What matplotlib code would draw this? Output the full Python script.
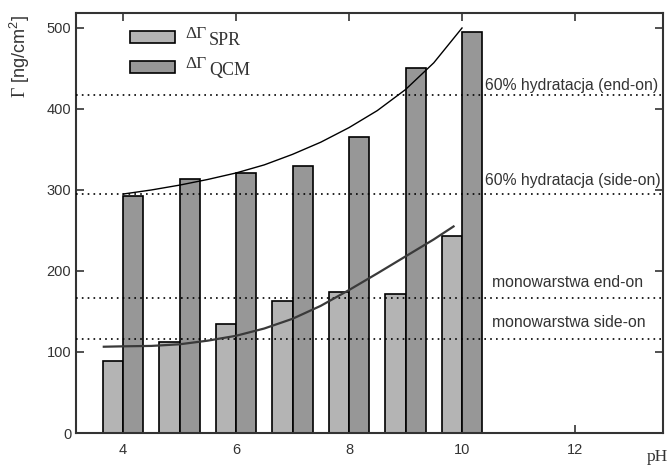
import numpy as np
import matplotlib
matplotlib.use("Agg")
import matplotlib.pyplot as plt
from matplotlib.patches import Rectangle

plt.rcParams['font.family'] = ['Liberation Sans', 'DejaVu Sans']
plt.rcParams['mathtext.fontset'] = 'custom'
plt.rcParams['mathtext.rm'] = 'Liberation Serif'
plt.rcParams['mathtext.sf'] = 'Liberation Sans'

# measured values
ph = [4, 5, 6, 7, 8, 9, 10]
spr = [89, 112, 134, 163, 174, 172, 243]
qcm = [293, 313, 321, 330, 365, 450, 495]

# fitted trend lines
qcm_fit_ph = [4, 4.5, 5, 5.5, 6, 6.5, 7, 7.5, 8, 8.5, 9, 9.5, 10]
qcm_fit = [295, 300, 306, 313, 321, 331, 344, 359, 377, 398, 424, 457, 500]
spr_fit_ph = [3.66, 4, 4.5, 5, 5.5, 6, 6.5, 7, 7.5, 8, 8.5, 9, 9.5, 9.85]
spr_fit = [106.5, 107, 107.5, 109.5, 114, 120, 129, 141, 157, 176.5, 197, 218, 239, 255]

# reference levels
levels = [417, 295, 167, 116]
level_labels = ["60% hydratacja (end-on)", "60% hydratacja (side-on)",
                "monowarstwa end-on", "monowarstwa side-on"]
label_pos = [(10.41, 429), (10.41, 312), (10.53, 186), (10.53, 136)]

c_spr = '#b4b4b4'
c_qcm = '#979797'
dark = '#333333'

fig = plt.figure(figsize=(6.7, 4.69), dpi=100)
ax = fig.add_axes([76 / 670, 36 / 469, 587 / 670, 420 / 469])

w = 0.36
x = np.array(ph)
ax.bar(x - w, spr, width=w, align='edge', color=c_spr, edgecolor='black', linewidth=1.2, zorder=2)
ax.bar(x, qcm, width=w, align='edge', color=c_qcm, edgecolor='black', linewidth=1.2, zorder=2)

for lv in levels:
    ax.axhline(lv, color='black', linestyle=(0, (1, 2.5)), linewidth=1.2, zorder=3)
for txt, (tx, ty) in zip(level_labels, label_pos):
    ax.text(tx, ty, txt, fontsize=11.3, color=dark, va='center', ha='left', zorder=4)

ax.plot(qcm_fit_ph, qcm_fit, color='black', linewidth=1.0, zorder=4)
ax.plot(spr_fit_ph, spr_fit, color='#3a3a3a', linewidth=1.6, zorder=4)

ax.set_xlim(3.168, 13.557)
ax.set_ylim(0, 518.5)
ax.set_xticks([4, 6, 8, 10, 12])
ax.set_yticks([0, 100, 200, 300, 400, 500])
ax.tick_params(axis='both', direction='in', length=6, width=1.2, colors=dark,
               labelsize=10.5, top=True, right=True, labeltop=False, labelright=False)
ax.tick_params(axis='x', pad=7)
for s in ax.spines.values():
    s.set_linewidth(1.5)
    s.set_color(dark)

# legend drawn by hand
for fy, name, by in [(0.9286, 'SPR', 0.924), (0.857, 'QCM', 0.852)]:
    ax.add_patch(Rectangle((0.092, fy), 0.0767, 0.0286, transform=ax.transAxes,
                           facecolor=c_spr if name == 'SPR' else c_qcm,
                           edgecolor='black', linewidth=1.2, zorder=5, clip_on=False))
    ax.text(0.1857, by + 0.017, 'ΔΓ', transform=ax.transAxes, fontsize=12.5,
            family='Liberation Serif', va='baseline', ha='left', color=dark)
    ax.text(0.227, by, name, transform=ax.transAxes, fontsize=13,
            family='Liberation Serif', va='baseline', ha='left', color=dark)

fig.text(20 / 670, 1 - 57 / 469, r'$\Gamma$ [ng/cm$^{\mathsf{2}}$]', rotation=90,
         ha='center', va='center', fontsize=13, color=dark)
fig.text(668 / 670, 1 - 457 / 469, 'pH', family='Liberation Serif', fontsize=12.5,
         ha='right', va='center', color=dark)

fig.savefig('out.png', dpi=100)
